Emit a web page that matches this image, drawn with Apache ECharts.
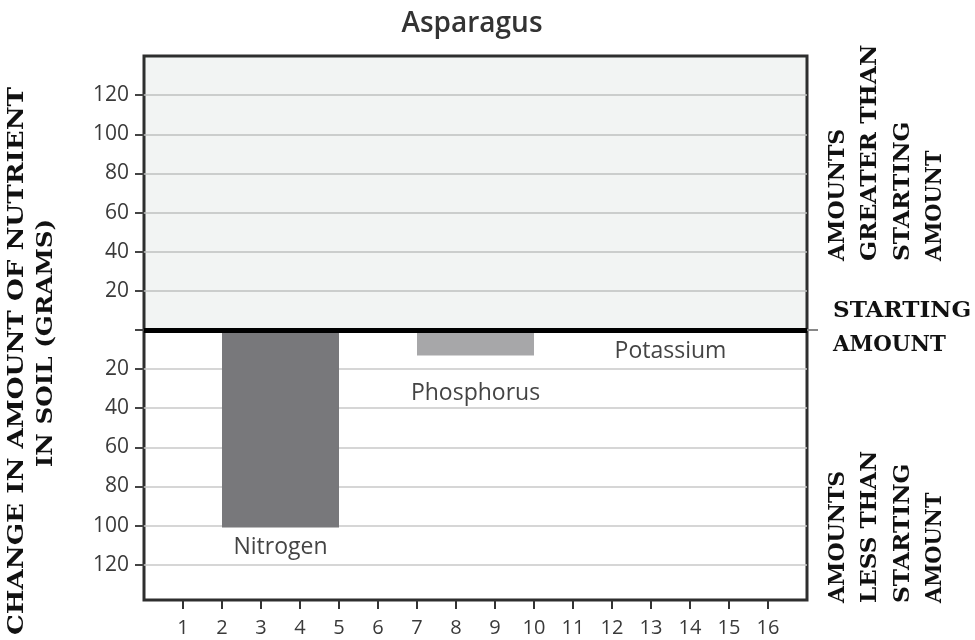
<!DOCTYPE html>
<html>
<head>
<meta charset="utf-8">
<script src="https://cdn.jsdelivr.net/npm/echarts@6/dist/echarts.min.js"></script>
<style>
  html, body { margin: 0; padding: 0; background: #fff; }
  #chart { width: 975px; height: 640px; }
</style>
</head>
<body>
<div id="chart"></div>
<script>
// values
var nutrients = ['Nitrogen', 'Phosphorus', 'Potassium'];
var barStart = [2, 7, 12];
var barEnd = [5, 10, 15];
var change = [-101, -13, 0];
var yTicks = [-120, -100, -80, -60, -40, -20, 0, 20, 40, 60, 80, 100, 120];
var xTicks = [1, 2, 3, 4, 5, 6, 7, 8, 9, 10, 11, 12, 13, 14, 15, 16];

// styling only
var barColors = ['#78787b', '#a7a7a9', '#a7a7a9'];
var labelGap = [8, 27, 10];
var sideFont = 'bold 22px "DejaVu Serif"';

var chart = echarts.init(document.getElementById('chart'));

var barData = nutrients.map(function (n, i) {
    return [barStart[i], barEnd[i], change[i], i];
});

function sideText(text, x, y, align, rot, sx) {
    return {
        type: 'text',
        x: x, y: y,
        rotation: rot,
        scaleX: sx,
        style: {
            text: text,
            font: sideFont,
            fill: '#111',
            align: align,
            verticalAlign: 'middle'
        }
    };
}
var up = Math.PI / 2;

var option = {
    animation: false,
    backgroundColor: '#fff',
    grid: {
        left: 144,
        right: 168,
        top: 56,
        bottom: 40,
        show: true,
        borderColor: '#2e2e2e',
        borderWidth: 3,
        backgroundColor: 'transparent'
    },
    xAxis: {
        type: 'value',
        min: 0,
        max: 17,
        axisLine: { show: false, onZero: false },
        splitLine: { show: false },
        axisTick: {
            show: true,
            customValues: xTicks,
            length: 9,
            lineStyle: { color: '#333', width: 2 }
        },
        axisLabel: {
            customValues: xTicks,
            margin: 18,
            fontFamily: 'Open Sans',
            fontSize: 20,
            color: '#3a3a3a'
        }
    },
    yAxis: [{
        type: 'value',
        min: -138,
        max: 140,
        axisLine: { show: false },
        axisTick: {
            show: true,
            customValues: yTicks,
            length: 9,
            lineStyle: { color: '#444', width: 2 }
        },
        axisLabel: {
            customValues: yTicks,
            margin: 15,
            fontFamily: 'Open Sans',
            fontSize: 21,
            color: '#3a3a3a',
            formatter: function (v) { return v === 0 ? '' : String(Math.abs(v)); }
        },
        splitLine: { show: true, lineStyle: { color: '#c9c9c9', width: 1.5 } }
    }, {
        type: 'value',
        position: 'right',
        min: -138,
        max: 140,
        axisLine: { show: false },
        axisLabel: { show: false },
        splitLine: { show: false },
        axisTick: {
            show: true,
            customValues: [0],
            length: 11,
            lineStyle: { color: '#888', width: 2 }
        }
    }],
    series: [{
        type: 'custom',
        data: barData,
        renderItem: function (params, api) {
            var i = api.value(3);
            var p0 = api.coord([api.value(0), 0]);
            var p1 = api.coord([api.value(1), api.value(2)]);
            var top = Math.min(p0[1], p1[1]);
            var bottom = Math.max(p0[1], p1[1]);
            return {
                type: 'group',
                children: [{
                    type: 'rect',
                    shape: { x: p0[0], y: top, width: p1[0] - p0[0], height: bottom - top },
                    style: { fill: barColors[i] }
                }, {
                    type: 'text',
                    x: (p0[0] + p1[0]) / 2,
                    y: bottom + labelGap[i],
                    style: {
                        text: nutrients[i],
                        fontFamily: 'Open Sans',
                        fontSize: 23,
                        fill: '#444',
                        align: 'center',
                        verticalAlign: 'top'
                    }
                }]
            };
        },
        markArea: {
            silent: true,
            itemStyle: { color: 'rgba(38,72,55,0.06)' },
            data: [[{ yAxis: 0 }, { yAxis: 140 }]]
        },
        markLine: {
            silent: true,
            symbol: 'none',
            label: { show: false },
            lineStyle: { color: '#000', width: 5, type: 'solid' },
            data: [{ yAxis: 0 }]
        }
    }],
    graphic: [
        {
            type: 'text', x: 472, y: 24,
            style: {
                text: 'Asparagus', fontFamily: 'Open Sans', fontWeight: 600,
                fontSize: 28, fill: '#333', align: 'center', verticalAlign: 'middle'
            }
        },
        sideText('CHANGE IN AMOUNT OF NUTRIENT', 17, 361, 'center', up, 1.19),
        sideText('IN SOIL (GRAMS)', 46, 343, 'center', up, 1.12),
        sideText('AMOUNTS', 838, 261, 'left', up, 1.0),
        sideText('GREATER THAN', 870, 261, 'left', up, 1.065),
        sideText('STARTING', 903, 261, 'left', up, 1.06),
        sideText('AMOUNT', 935, 261, 'left', up, 0.95),
        sideText('STARTING', 833, 311, 'left', 0, 1.05),
        sideText('AMOUNT', 833, 345, 'left', 0, 0.97),
        sideText('AMOUNTS', 838, 603, 'left', up, 1.0),
        sideText('LESS THAN', 870, 603, 'left', up, 1.046),
        sideText('STARTING', 903, 603, 'left', up, 1.06),
        sideText('AMOUNT', 935, 603, 'left', up, 0.95)
    ]
};
chart.setOption(option);
</script>
</body>
</html>
